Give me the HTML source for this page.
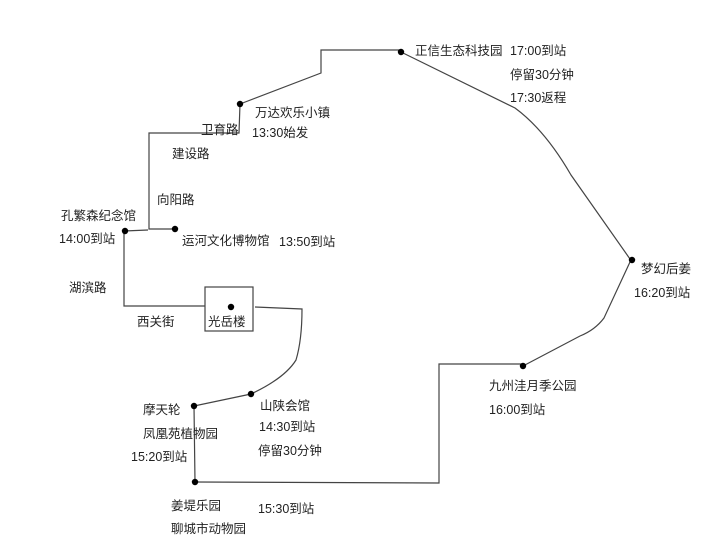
<!DOCTYPE html>
<html><head><meta charset="utf-8"><style>
html,body{margin:0;padding:0;background:#fff;}
svg{display:block}
text{font-family:"Liberation Sans","Noto Sans CJK SC",sans-serif;font-size:12.5px;fill:#222;}
</style></head><body>
<svg width="720" height="547" viewBox="0 0 720 547">
<g fill="none" stroke="#444" stroke-width="1.2">
<path d="M240,104 L321,73 L321,50 L401,50"/>
<path d="M401,52 L515,108 Q545,130 571,175 L630,259"/>
<path d="M630,262 L604,318 Q595,330 580,336 L523,366"/>
<path d="M523,364 L439,364 L439,483 L195,482"/>
<path d="M240,104 L239,133 L149,133 L149,229 L175,229"/>
<path d="M125,231 L148,230"/>
<path d="M124,231 L124,306 L205,306"/>
<rect x="205" y="287" width="48" height="44"/>
<path d="M255,307 L302,309 Q302,340 296,360 Q285,378 251,394 L194,406 L195,482"/>
</g>
<g fill="#000">
<circle cx="401" cy="52" r="3.2"/><circle cx="240" cy="104" r="3.2"/>
<circle cx="632" cy="260" r="3.2"/><circle cx="523" cy="366" r="3.2"/>
<circle cx="175" cy="229" r="3.2"/><circle cx="125" cy="231" r="3.2"/>
<circle cx="231" cy="307" r="3.2"/><circle cx="251" cy="394" r="3.2"/>
<circle cx="194" cy="406" r="3.2"/><circle cx="195" cy="482" r="3.2"/>
</g>
<text x="415" y="55">正信生态科技园</text>
<text x="510" y="55">17:00到站</text>
<text x="510" y="79">停留30分钟</text>
<text x="510" y="102">17:30返程</text>
<text x="255" y="117">万达欢乐小镇</text>
<text x="252" y="137">13:30始发</text>
<text x="201" y="134">卫育路</text>
<text x="172" y="158">建设路</text>
<text x="157" y="204">向阳路</text>
<text x="61" y="220">孔繁森纪念馆</text>
<text x="59" y="243">14:00到站</text>
<text x="182" y="245">运河文化博物馆</text>
<text x="279" y="246">13:50到站</text>
<text x="69" y="292">湖滨路</text>
<text x="137" y="326">西关街</text>
<text x="208" y="326">光岳楼</text>
<text x="641" y="273">梦幻后姜</text>
<text x="634" y="297">16:20到站</text>
<text x="489" y="390">九州洼月季公园</text>
<text x="489" y="414">16:00到站</text>
<text x="143" y="414">摩天轮</text>
<text x="143" y="438">凤凰苑植物园</text>
<text x="131" y="461">15:20到站</text>
<text x="260" y="410">山陕会馆</text>
<text x="259" y="431">14:30到站</text>
<text x="258" y="455">停留30分钟</text>
<text x="171" y="510">姜堤乐园</text>
<text x="171" y="533">聊城市动物园</text>
<text x="258" y="513">15:30到站</text>
</svg>
</body></html>
